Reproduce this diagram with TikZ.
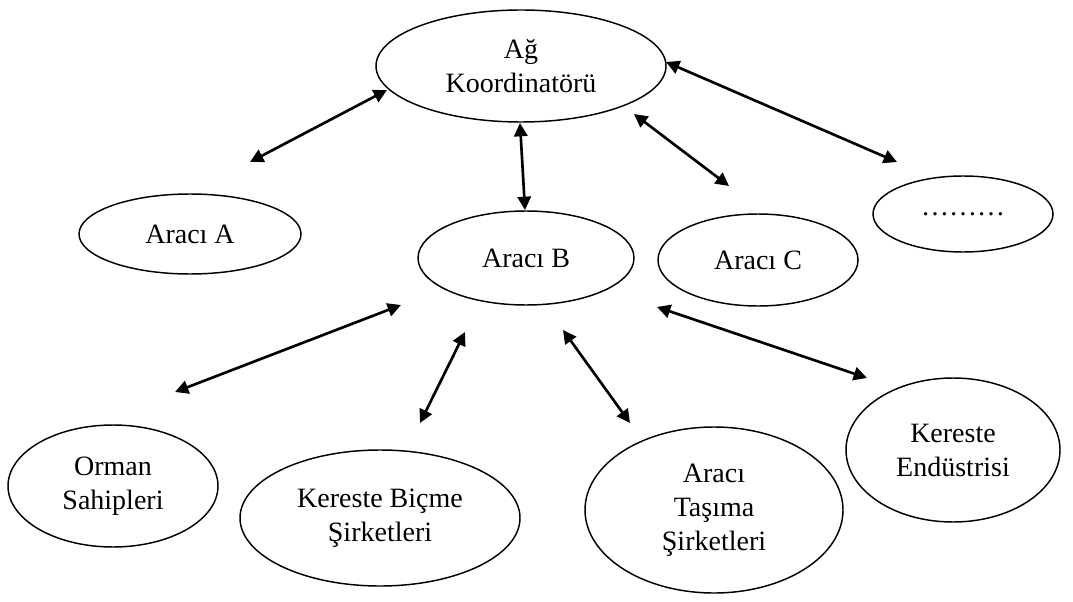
\documentclass[tikz,border=0pt]{standalone}
\usepackage{fontspec}
\setmainfont{Liberation Serif}
\usetikzlibrary{arrows.meta,shapes.geometric}
\begin{document}
\begin{tikzpicture}[x=0.75pt,y=-0.75pt,
  ell/.style={draw, line width=1.1pt, ellipse, inner sep=0pt, align=center,
    font=\fontsize{21}{25.5}\selectfont},
  biarrow/.style={line width=2pt,
    {Triangle[length=10pt,width=10pt]}-{Triangle[length=10pt,width=10pt]}}]
\useasboundingbox (0,0) rectangle (1073,602);
\node[ell, minimum width=290*0.75pt, minimum height=112*0.75pt] (ag) at (521,66) {Ağ\\Koordinatörü};
\node[ell, minimum width=222*0.75pt, minimum height=80*0.75pt] (aa) at (190,234) {Aracı A};
\node[ell, minimum width=216*0.75pt, minimum height=94*0.75pt] (ab) at (526,258) {Aracı B};
\node[ell, minimum width=200*0.75pt, minimum height=92*0.75pt] (ac) at (758,260) {Aracı C};
\node[ell, minimum width=180*0.75pt, minimum height=76*0.75pt] (ad) at (963,214) {………};
\node[ell, minimum width=210*0.75pt, minimum height=122*0.75pt] (os) at (113,486) {Orman\\Sahipleri};
\node[ell, minimum width=280*0.75pt, minimum height=136*0.75pt] (kb) at (380,518) {Kereste Biçme\\Şirketleri};
\node[ell, minimum width=258*0.75pt, minimum height=166*0.75pt] (at) at (714,510) {Aracı\\Taşıma\\Şirketleri};
\node[ell, minimum width=214*0.75pt, minimum height=144*0.75pt] (ke) at (953,450) {Kereste\\Endüstrisi};
\coordinate (a1s) at (250,162); \coordinate (a1e) at (387,90);
\coordinate (a2s) at (520,123); \coordinate (a2e) at (525,210);
\coordinate (a3s) at (634,114); \coordinate (a3e) at (729,186);
\coordinate (a4s) at (666,62);  \coordinate (a4e) at (897,162);
\coordinate (b1s) at (175,392); \coordinate (b1e) at (401,305);
\coordinate (b2s) at (465,332); \coordinate (b2e) at (420,423);
\coordinate (b3s) at (563,330); \coordinate (b3e) at (630,423);
\coordinate (b4s) at (657,307); \coordinate (b4e) at (867,378);
\draw[biarrow] (a1s) -- (a1e);
\draw[biarrow] (a2s) -- (a2e);
\draw[biarrow] (a3s) -- (a3e);
\draw[biarrow] (a4s) -- (a4e);
\draw[biarrow] (b1s) -- (b1e);
\draw[biarrow] (b2s) -- (b2e);
\draw[biarrow] (b3s) -- (b3e);
\draw[biarrow] (b4s) -- (b4e);
\end{tikzpicture}
\end{document}
